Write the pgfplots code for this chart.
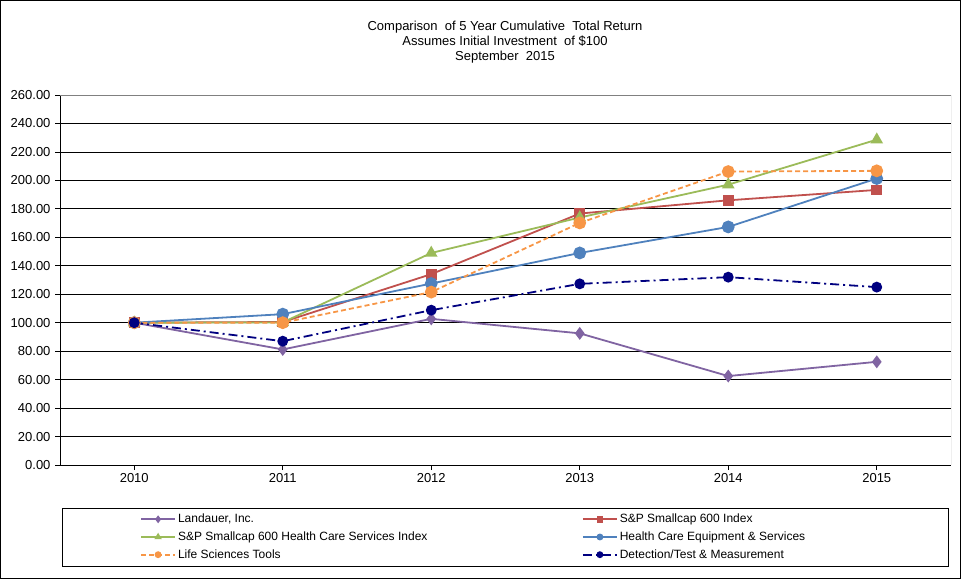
\documentclass[border=0pt]{standalone}
\usepackage{fontspec}
\setmainfont{Liberation Sans}
\usepackage{pgfplots}
\pgfplotsset{compat=1.18}
\definecolor{cPur}{HTML}{8064A2}
\definecolor{cRed}{HTML}{C0504D}
\definecolor{cGrn}{HTML}{9BBB59}
\definecolor{cBlu}{HTML}{4F81BD}
\definecolor{cOrg}{HTML}{F79646}
\definecolor{cNav}{HTML}{000080}
\begin{document}
\begin{tikzpicture}[x=1pt,y=1pt]
\useasboundingbox (0,0) rectangle (961,579);
\draw[black, line width=1pt] (0.5,0.5) rectangle (960.5,578.5);
\node[align=center, font=\fontsize{13}{15}\selectfont] at (505,537) {Comparison\ \ of 5 Year Cumulative\ \ Total Return\\Assumes Initial Investment\ \ of \$100\\September\ \ 2015};
\draw[black, line width=0.8pt] (62,13) rectangle (948,71);
\begin{axis}[
  at={(60pt,114pt)}, anchor=south west,
  scale only axis, width=891pt, height=370pt,
  xmin=2009.5, xmax=2015.5, ymin=0, ymax=260,
  xtick={2010,2011,2012,2013,2014,2015},
  ytick={0,20,...,260},
  axis x line*=bottom, axis y line*=left,
  axis line style={black, line width=0.8pt},
  tick align=outside, major tick length=5pt,
  tick style={black, line width=0.8pt},
  ymajorgrids, grid style={black, line width=0.8pt},
  ticklabel style={font=\fontsize{13}{15}\selectfont},
  yticklabel style={xshift=-1pt},
  xticklabel style={/pgf/number format/1000 sep=},
  yticklabel style={/pgf/number format/.cd, fixed, fixed zerofill, precision=2},
  /pgf/number format/assume math mode=true,
  every axis plot/.append style={line width=1.8pt},
  legend image code/.code={\draw[mark repeat=2,mark phase=2,#1] plot coordinates {(0pt,0pt) (17pt,0pt) (34pt,0pt)};},
  legend image post style={mark size=2.5pt},
  legend columns=2,
  legend cell align=left,
  legend style={draw=none, fill=none, at={(0.0898,-0.1946)}, anchor=west,
    inner sep=0pt, column sep=0pt, row sep=5.5pt,
    font=\fontsize{12}{13}\selectfont,
    nodes={inner xsep=2pt, inner ysep=1pt}},
]
\addplot[cPur, mark=diamond*, mark size=5pt] coordinates {(2010,100)(2011,81.2)(2012,102.7)(2013,92.5)(2014,62.5)(2015,72.5)};
\addlegendentry{\makebox[402pt][l]{Landauer, Inc.}}
\addplot[cRed, mark=square*, mark size=4.5pt] coordinates {(2010,100)(2011,100.5)(2012,134.1)(2013,176.7)(2014,186.0)(2015,193.3)};
\addlegendentry{\makebox[240pt][l]{S\&P Smallcap 600 Index}}
\addplot[cGrn, mark=triangle*, mark size=5.5pt] coordinates {(2010,100)(2011,100.2)(2012,149.0)(2013,173.9)(2014,197.0)(2015,228.6)};
\addlegendentry{S\&P Smallcap 600 Health Care Services Index}
\addplot[cBlu, mark=*, mark size=5.5pt] coordinates {(2010,100)(2011,106.0)(2012,127.5)(2013,149.0)(2014,167.3)(2015,201.3)};
\addlegendentry{Health Care Equipment \& Services}
\addplot[cOrg, dash pattern=on 5pt off 3pt, mark=*, mark size=5.5pt, mark options={solid}] coordinates {(2010,100)(2011,100.0)(2012,121.5)(2013,170.1)(2014,206.2)(2015,206.7)};
\addlegendentry{Life Sciences Tools}
\addplot[cNav, dash pattern=on 9pt off 4pt on 2pt off 4pt, mark=*, mark size=4.5pt, mark options={solid}] coordinates {(2010,100)(2011,87.0)(2012,108.8)(2013,127.3)(2014,132.0)(2015,125.0)};
\addlegendentry{Detection/Test \& Measurement}
\draw[gray, line width=0.8pt] (rel axis cs:0,1) -- (rel axis cs:1,1) -- (rel axis cs:1,0);
\end{axis}
\end{tikzpicture}
\end{document}
